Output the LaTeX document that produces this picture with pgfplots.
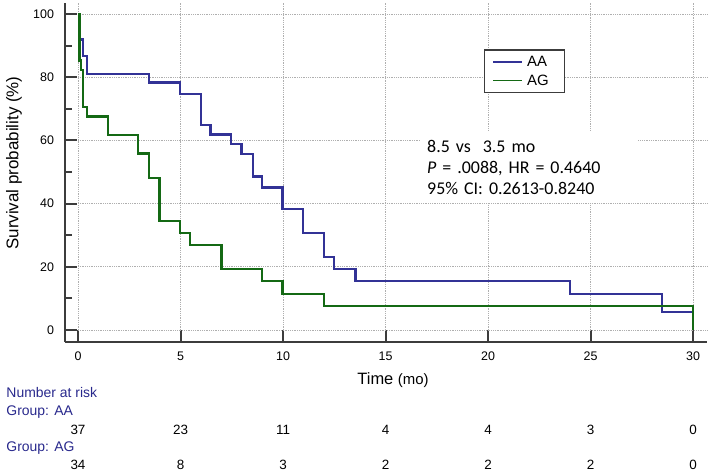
\documentclass[border=0pt]{standalone}
\usepackage{fontspec}
\setmainfont{Liberation Sans}
\newfontfamily\calibri{Carlito}
\usepackage{pgfplots}
\pgfplotsset{compat=1.18}
\definecolor{kmblue}{RGB}{50,50,150}
\definecolor{kmgreen}{RGB}{20,105,20}
\definecolor{navytext}{RGB}{40,40,140}
\definecolor{spine}{RGB}{60,60,60}
\definecolor{gridc}{RGB}{175,175,175}
\begin{document}
\begin{tikzpicture}
\useasboundingbox (-65bp,-130bp) rectangle (644bp,342bp);
\begin{axis}[
  at={(0,0)}, anchor=south west,
  scale only axis, width=642bp, height=339bp,
  xmin=-0.634, xmax=30.68, ymin=-3.8, ymax=103.5,
  axis lines=left, axis line style={-, draw=spine, line width=2bp},
  xtick={0,5,...,30}, ytick={0,20,...,100},
  minor y tick num=1, minor x tick num=0,
  tick align=inside, major tick length=12bp, minor tick length=7bp,
  tick style={draw=spine, line width=2bp},
  /pgf/number format/assume math mode=true,
  tick label style={font=\fontsize{12.5}{14}\selectfont},
  yticklabel style={xshift=-7.5bp},
  xticklabel style={yshift=-6bp},
  xlabel={Time {\fontsize{15}{16}\selectfont(mo)}},
  ylabel={Survival probability (\%)},
  x label style={font=\fontsize{16.5}{18}\selectfont, at={(axis description cs:0.511,-0.112)}, anchor=center},
  y label style={font=\fontsize{17}{18}\selectfont, at={(axis description cs:-0.0794,0.528)}, anchor=center},
  clip=false,
  legend style={at={(axis cs:19.80,88.9)}, anchor=north west, draw=spine, line width=1.4bp,
    fill=white, font=\fontsize{15}{16}\selectfont, inner xsep=8bp, inner ysep=4bp,
    row sep=3bp, column sep=2bp, nodes={inner sep=2bp}},
  legend cell align=left,
  legend image code/.code={\draw[#1, line width=1.6bp] (0bp,0bp) -- (29bp,0bp);},
]
\pgfplotsinvokeforeach{0,20,40,60,80,100}{\draw[gridc, densely dotted, line width=0.8bp] (axis cs:0,#1) -- (axis cs:30.68,#1);}
\pgfplotsinvokeforeach{0,5,10,15,20,25,30}{\draw[gridc, densely dotted, line width=0.8bp] (axis cs:#1,0) -- (axis cs:#1,103.5);}

\addplot[const plot, kmblue, line width=2.3bp] coordinates {
(0,100) (0.05,91.9) (0.23,86.7) (0.43,81.0) (3.46,78.3) (4.98,74.7) (6.0,64.9)
(6.47,61.9) (7.47,58.8) (7.97,55.6) (8.52,48.6) (8.99,45.1) (9.97,38.3)
(10.99,30.6) (12.01,23.0) (12.5,19.2) (13.54,15.5) (24.0,11.3) (28.5,5.6) (30,0)};
\addlegendentry{\makebox[27bp][l]{AA}}
\addplot[const plot, kmgreen, line width=2.3bp] coordinates {
(0,100) (0.08,85.3) (0.15,82.4) (0.23,70.6) (0.45,67.6) (1.48,61.8) (2.91,55.9)
(3.46,48.2) (3.97,34.5) (4.98,30.6) (5.46,26.9) (7.0,19.2) (8.96,15.5)
(9.97,11.3) (12.0,7.7) (30,0)};
\addlegendentry{\makebox[27bp][l]{AG}}

\node[anchor=north west, fill=white, inner xsep=7bp, inner ysep=8.4bp, text width=204bp, align=left,
  font=\calibri\fontsize{18}{21}\selectfont] at (axis cs:16.68,62.66)
  {8.5 vs\ \ 3.5 mo\\\textit{P} = .0088, HR = 0.4640\\95\% CI: 0.2613-0.8240};

\node[anchor=west, navytext, font=\fontsize{14}{15}\selectfont] at (axis cs:-3.66,-19.9) {Number at risk};
\node[anchor=west, navytext, font=\fontsize{14}{15}\selectfont] at (axis cs:-3.66,-25.9) {Group: AA};
\node[anchor=west, navytext, font=\fontsize{14}{15}\selectfont] at (axis cs:-3.66,-37.3) {Group: AG};

\node[font=\fontsize{13.5}{15}\selectfont] at (axis cs:0,-31.6) {37};
\node[font=\fontsize{13.5}{15}\selectfont] at (axis cs:5,-31.6) {23};
\node[font=\fontsize{13.5}{15}\selectfont] at (axis cs:10,-31.6) {11};
\node[font=\fontsize{13.5}{15}\selectfont] at (axis cs:15,-31.6) {4};
\node[font=\fontsize{13.5}{15}\selectfont] at (axis cs:20,-31.6) {4};
\node[font=\fontsize{13.5}{15}\selectfont] at (axis cs:25,-31.6) {3};
\node[font=\fontsize{13.5}{15}\selectfont] at (axis cs:30,-31.6) {0};

\node[font=\fontsize{13.5}{15}\selectfont] at (axis cs:0,-42.8) {34};
\node[font=\fontsize{13.5}{15}\selectfont] at (axis cs:5,-42.8) {8};
\node[font=\fontsize{13.5}{15}\selectfont] at (axis cs:10,-42.8) {3};
\node[font=\fontsize{13.5}{15}\selectfont] at (axis cs:15,-42.8) {2};
\node[font=\fontsize{13.5}{15}\selectfont] at (axis cs:20,-42.8) {2};
\node[font=\fontsize{13.5}{15}\selectfont] at (axis cs:25,-42.8) {2};
\node[font=\fontsize{13.5}{15}\selectfont] at (axis cs:30,-42.8) {0};
\end{axis}
\end{tikzpicture}
\end{document}
